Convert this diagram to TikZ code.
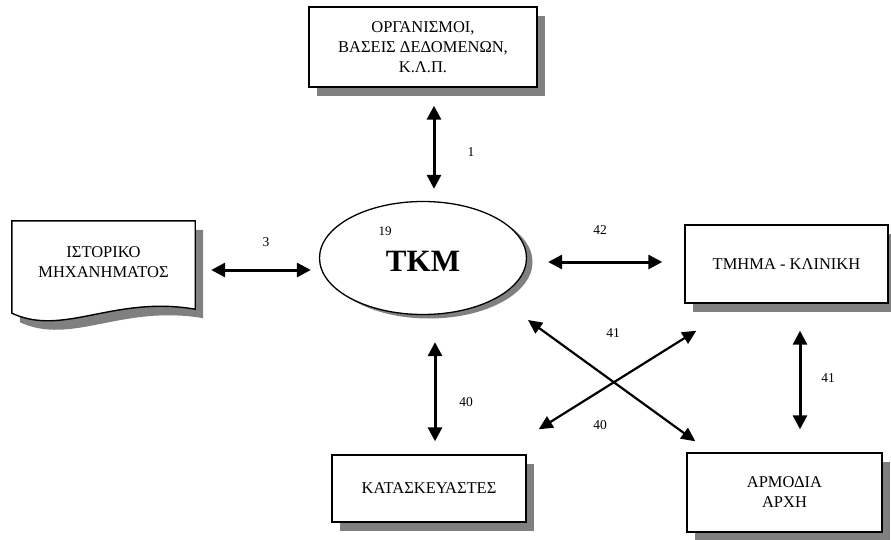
\documentclass[tikz,border=0pt]{standalone}
\usepackage{fontspec}
\setmainfont{Liberation Serif}
\usetikzlibrary{arrows.meta,shapes.geometric,calc,shadows}

\definecolor{shadowgray}{RGB}{128,128,128}

\tikzset{
  boxshadow/.style={drop shadow={shadow xshift=8pt, shadow yshift=-9pt, fill=shadowgray, opacity=1}},
  entity/.style={draw=black, line width=1.4pt, fill=white, align=center,
    font=\fontsize{16.5}{20}\selectfont, inner sep=0pt, boxshadow},
  link/.style={line width=3pt, {Triangle[length=14pt,width=14pt]}-{Triangle[length=14pt,width=14pt]}},
  diag/.style={line width=2.2pt, {Triangle[length=14pt,width=13pt]}-{Triangle[length=14pt,width=13pt]}},
  num/.style={font=\fontsize{13.5}{14}\selectfont, inner sep=0pt}
}

\begin{document}
\begin{tikzpicture}[x=1pt,y=-1pt]
\useasboundingbox (0,0) rectangle (891,540);

% organisations and databases
\node[entity, minimum width=228pt, minimum height=80pt] (orgs) at (423,47)
  {ΟΡΓΑΝΙΣΜΟΙ,\\ΒΑΣΕΙΣ ΔΕΔΟΜΕΝΩΝ,\\Κ.Λ.Π.};

% equipment history document
\node[minimum width=183pt, minimum height=92pt, inner sep=0pt] (hist) at (103.5,267) {};
\path[draw=black, line width=1.4pt, fill=white, boxshadow]
  (hist.north west) -- (hist.north east) -- ($(hist.south east)+(0,-4)$)
  .. controls ($(hist.south)+(10,-18)$) and ($(hist.south)+(-40,24)$) .. (hist.south west) -- cycle;
\node[align=center, font=\fontsize{16.5}{20}\selectfont] (histtext) at ($(hist.center)+(0,-5)$)
  {ΙΣΤΟΡΙΚΟ\\ΜΗΧΑΝΗΜΑΤΟΣ};

% central unit
\node[ellipse, draw=black, line width=1.3pt, fill=white, minimum width=207pt, minimum height=113pt,
  inner sep=0pt, drop shadow={shadow xshift=6pt, shadow yshift=-4pt, fill=shadowgray, opacity=1}]
  (tkm) at (423,258) {};
\node[font=\fontsize{31}{31}\bfseries\selectfont, inner sep=0pt] (tkmtext) at (423,261) {ΤΚΜ};
\node[num, font=\fontsize{13}{13}\selectfont] (n19) at (385,231) {19};

% departments and clinics
\node[entity, minimum width=203pt, minimum height=78pt] (clinic) at (786.5,264) {ΤΜΗΜΑ - ΚΛΙΝΙΚΗ};

% competent authority
\node[entity, minimum width=195pt, minimum height=79pt] (auth) at (784.5,492.5) {ΑΡΜΟΔΙΑ\\ΑΡΧΗ};

% manufacturers
\node[entity, minimum width=194pt, minimum height=67pt] (mfr) at (429,488.5) {ΚΑΤΑΣΚΕΥΑΣΤΕΣ};

% connectors
\draw[link] ($(orgs.south)+(11,18)$) -- ($(tkm.north)+(11,-12)$);
\draw[link] ($(hist.east)+(16,3)$) -- ($(tkm.west)+(-8,12)$);
\draw[link] ($(tkm.east)+(21,4)$) -- ($(clinic.west)+(-22,-2)$);
\draw[link] ($(tkm.south)+(12,27)$) -- ($(mfr.north)+(6,-13)$);
\draw[link] ($(clinic.south)+(13.5,27)$) -- ($(auth.north)+(15.5,-23)$);
\draw[diag] ($(tkm.center)+(105,62)$) -- ($(auth.north west)+(9,-11)$);
\draw[diag] ($(clinic.south west)+(12,27)$) -- ($(mfr.north east)+(12,-25)$);

% connector numbers
\node[num] (l1) at (471,152) {1};
\node[num] (l3) at (266,242) {3};
\node[num] (l42) at (600,230) {42};
\node[num] (l41a) at (613,333) {41};
\node[num] (l40a) at (600,425) {40};
\node[num] (l40b) at (466,402) {40};
\node[num] (l41b) at (828,378) {41};
\end{tikzpicture}
\end{document}
